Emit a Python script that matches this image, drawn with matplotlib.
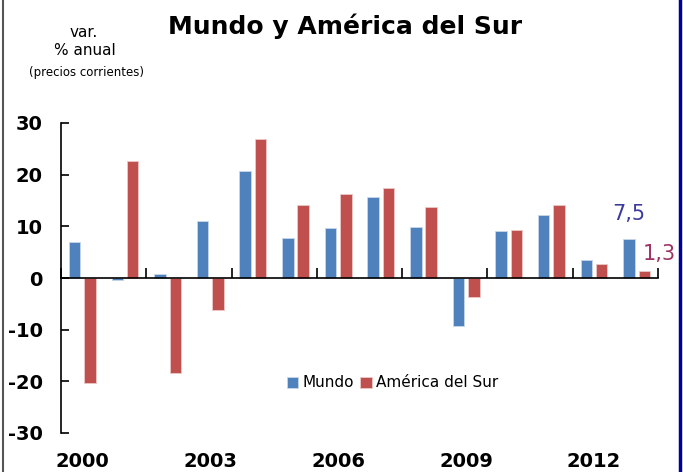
import matplotlib.pyplot as plt
import numpy as np
from matplotlib.lines import Line2D

years = [2000, 2001, 2002, 2003, 2004, 2005, 2006, 2007, 2008, 2009, 2010, 2011, 2012, 2013]
mundo = [6.9, -0.4, 0.8, 11.0, 20.7, 7.7, 9.7, 15.7, 9.9, -9.2, 9.1, 12.2, 3.5, 7.5]
amsur = [-20.3, 22.7, -18.4, -6.1, 26.9, 14.1, 16.3, 17.4, 13.8, -3.7, 9.3, 14.1, 2.7, 1.3]
year_labels = [2000, 2003, 2006, 2009, 2012]

blue = '#4F81BD'
red = '#C0504D'

fig = plt.figure(figsize=(6.83, 4.72), dpi=100)
ax = fig.add_axes([61/683, 1-433/472, (658-61)/683, (433-123)/472])

x = np.arange(len(years)) + 0.5
w = 0.27
ax.bar(x - 0.18, mundo, w, color=blue, edgecolor='#c9d7ea', linewidth=0.6, label='Mundo')
ax.bar(x + 0.18, amsur, w, color=red, edgecolor='#eac9c8', linewidth=0.6, label='América del Sur')

ax.set_xlim(0, len(years))
ax.set_ylim(-30, 30)
ax.set_yticks([-30, -20, -10, 0, 10, 20, 30])
ax.set_yticklabels(['-30', '-20', '-10', '0', '10', '20', '30'], fontsize=14, fontweight='bold')
ax.tick_params(axis='y', direction='in', length=6, width=1.2, pad=13)

ax.spines['top'].set_visible(False)
ax.spines['right'].set_visible(False)
ax.spines['bottom'].set_position(('data', 0))
ax.spines['left'].set_linewidth(1.2)
ax.spines['bottom'].set_linewidth(1.2)
ax.set_xticks(np.arange(0, len(years) + 1, 2))
ax.tick_params(axis='x', direction='in', length=7, width=1.2, labelbottom=False)

# year labels sit at the bottom of the plot, not on the zero line
sec = ax.secondary_xaxis('bottom')
sec.set_xticks([years.index(y) + 0.5 for y in year_labels])
sec.set_xticklabels([str(y) for y in year_labels], fontsize=14, fontweight='bold')
sec.tick_params(length=0, pad=14)
sec.spines['bottom'].set_visible(False)

# end value labels
ax.text(x[-1] - 0.18, mundo[-1] + 2.9, '7,5', color='#3b3b9e', fontsize=15, ha='center', va='bottom')
ax.text(x[-1] + 0.52, amsur[-1] + 1.5, '1,3', color='#9e3264', fontsize=15, ha='center', va='bottom')

leg = ax.legend(loc='upper left', bbox_to_anchor=(0.355, 0.23), ncol=2, frameon=False,
                fontsize=11, handlelength=0.75, handleheight=0.75, handletextpad=0.3,
                columnspacing=0.4)

fig.text(0.505, 0.945, 'Mundo y América del Sur', fontsize=18, fontweight='bold', ha='center', va='center')
fig.text(0.122, 0.932, 'var.', fontsize=11, ha='center', va='center')
fig.text(0.125, 0.892, '% anual', fontsize=11, ha='center', va='center')
fig.text(0.126, 0.847, '(precios corrientes)', fontsize=8.5, ha='center', va='center')

# page frame
fig.add_artist(Line2D([3/683, 3/683], [0, 1], color='#555555', linewidth=1.5, transform=fig.transFigure))
fig.add_artist(Line2D([680/683, 680/683], [0, 1], color='#0000a0', linewidth=2.5, transform=fig.transFigure))

fig.savefig('out.png', dpi=100)
